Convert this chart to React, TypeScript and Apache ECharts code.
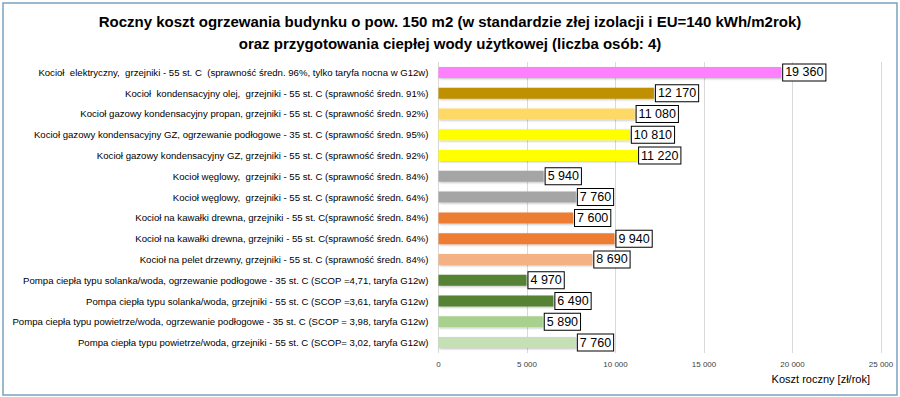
import React, { useEffect, useRef } from "react";
import * as echarts from "echarts";

const categories: string[] = [
  "Kocioł  elektryczny,  grzejniki - 55 st. C  (sprawność średn. 96%, tylko taryfa nocna w G12w)",
  "Kocioł  kondensacyjny olej,  grzejniki - 55 st. C (sprawność średn. 91%)",
  "Kocioł gazowy kondensacyjny propan, grzejniki - 55 st. C (sprawność średn. 92%)",
  "Kocioł gazowy kondensacyjny GZ, ogrzewanie podłogowe - 35 st. C (sprawność średn. 95%)",
  "Kocioł gazowy kondensacyjny GZ, grzejniki - 55 st. C (sprawność średn. 92%)",
  "Kocioł węglowy,  grzejniki - 55 st. C (sprawność średn. 84%)",
  "Kocioł węglowy,  grzejniki - 55 st. C (sprawność średn. 64%)",
  "Kocioł na kawałki drewna, grzejniki - 55 st. C(sprawność średn. 84%)",
  "Kocioł na kawałki drewna, grzejniki - 55 st. C(sprawność średn. 64%)",
  "Kocioł na pelet drzewny, grzejniki - 55 st. C (sprawność średn. 84%)",
  "Pompa ciepła typu solanka/woda, ogrzewanie podłogowe - 35 st. C (SCOP =4,71, taryfa G12w)",
  "Pompa ciepła typu solanka/woda, grzejniki - 55 st. C (SCOP =3,61, taryfa G12w)",
  "Pompa ciepła typu powietrze/woda, ogrzewanie podłogowe - 35 st. C (SCOP = 3,98, taryfa G12w)",
  "Pompa ciepła typu powietrze/woda, grzejniki - 55 st. C (SCOP= 3,02, taryfa G12w)",
];

const annualCost: number[] = [
  19360, 12170, 11080, 10810, 11220, 5940, 7760, 7600, 9940, 8690, 4970, 6490, 5890, 7760,
];

const barColors: string[] = [
  "#FF80FF", "#BF9000", "#FFD966", "#FFFF00", "#FFFF00", "#A5A5A5", "#A5A5A5",
  "#ED7D31", "#ED7D31", "#F4B183", "#548235", "#548235", "#A9D18E", "#C5E0B4",
];

const titleLines: string[] = [
  "Roczny koszt ogrzewania budynku o pow. 150 m2 (w standardzie złej izolacji i EU=140 kWh/m2rok)",
  "oraz przygotowania ciepłej wody użytkowej (liczba osób: 4)",
];

const axisTitle = "Koszt roczny [zł/rok]";

const FONT = "'Liberation Sans', Arial, sans-serif";

const fmt = (v: number) =>
  String(Math.round(v)).replace(/\B(?=(\d{3})+(?!\d))/g, " ");

export default function App() {
  const ref = useRef<HTMLDivElement>(null);

  useEffect(() => {
    if (!ref.current) return;
    const chart = echarts.init(ref.current, undefined, { renderer: "svg" });
    chart.setOption({
      animation: false,
      backgroundColor: "#ffffff",
      textStyle: { fontFamily: FONT },
      title: {
        text: titleLines.join("\n"),
        left: "center",
        top: 5,
        textStyle: {
          fontFamily: FONT,
          fontSize: 15,
          fontWeight: "bold",
          color: "#000",
          lineHeight: 22,
        },
      },
      grid: { left: 438.5, right: 19, top: 62, bottom: 44, containLabel: false },
      xAxis: {
        type: "value",
        min: 0,
        max: 25000,
        interval: 5000,
        axisLine: { show: false },
        axisTick: { show: false },
        splitLine: { lineStyle: { color: "#D9D9D9", width: 1 } },
        axisLabel: {
          fontFamily: FONT,
          fontSize: 8,
          color: "#404040",
          margin: 7,
          formatter: (v: number) => fmt(v),
        },
      },
      yAxis: {
        type: "category",
        inverse: true,
        data: categories,
        axisLine: { show: false },
        axisTick: { show: false },
        axisLabel: { fontFamily: FONT, fontSize: 9.6, color: "#000", margin: 10 },
      },
      series: [
        {
          type: "bar",
          barWidth: 11,
          data: annualCost.map((v, i) => ({
            value: v,
            itemStyle: { color: barColors[i] },
          })),
          itemStyle: {
            shadowColor: "rgba(0,0,0,0.25)",
            shadowBlur: 2,
            shadowOffsetX: 1,
            shadowOffsetY: 1,
          },
          label: {
            show: true,
            position: "right",
            distance: 2,
            formatter: (p: any) => fmt(p.value),
            fontFamily: FONT,
            fontSize: 12.5,
            color: "#000",
            backgroundColor: "#fff",
            borderColor: "#000",
            borderWidth: 1,
            padding: [2, 2, 1, 2],
          },
        },
      ],
      graphic: [
        {
          type: "rect",
          shape: { x: 3, y: 3, width: 894, height: 392 },
          style: { fill: "none", stroke: "#7BA3BE", lineWidth: 1.5 },
          silent: true,
        },
        {
          type: "text",
          right: 30,
          top: 373,
          style: {
            text: axisTitle,
            fontFamily: FONT,
            fontSize: 11,
            fill: "#000",
          },
        },
      ],
    });
    return () => chart.dispose();
  }, []);

  return (
    <div
      ref={ref}
      style={{ position: "fixed", left: 0, top: 0, width: 900, height: 397 }}
    />
  );
}
